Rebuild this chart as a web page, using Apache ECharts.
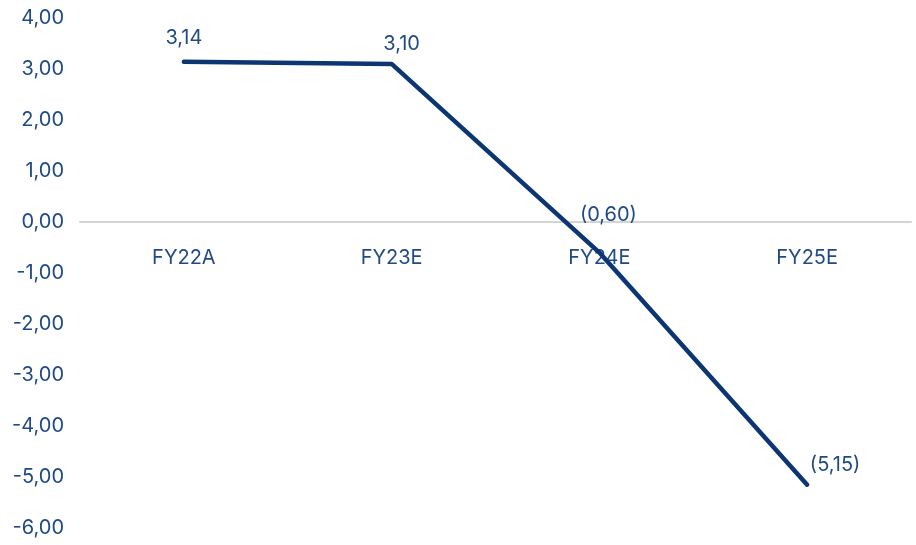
<!DOCTYPE html>
<html><head><meta charset="utf-8">
<script src="https://cdn.jsdelivr.net/npm/echarts@6/dist/echarts.min.js"></script>
<style>html,body{margin:0;padding:0;background:#fff}#c{width:916px;height:545px}</style>
</head><body><div id="c"></div>
<script>
const categories = ['FY22A','FY23E','FY24E','FY25E'];
const values = [3.14, 3.10, -0.60, -5.15];
const yTicks = {min:-6, max:4, interval:1};

function fmt(v){
  const s = Math.abs(v).toFixed(2).replace('.', ',');
  return v < 0 ? '(' + s + ')' : s;
}
const labelOffsets = [[0,-2],[10,2],[9,-16],[28,2]];
const gridTop = 18, gridBottom = 17, H = 545;
const plotH = H - gridTop - gridBottom;
const zeroOffset = -plotH * (0 - yTicks.min) / (yTicks.max - yTicks.min);
const chart = echarts.init(document.getElementById('c'));
chart.setOption({
  animation:false,
  grid:{left:80,right:5,top:gridTop,bottom:gridBottom,outerBoundsMode:'none',containLabel:false},
  textStyle:{fontFamily:'Inter'},
  xAxis:{type:'category',data:categories,position:'bottom',offset:zeroOffset,
    axisLine:{onZero:false,lineStyle:{color:'#d4d4d4',width:2}},
    axisTick:{show:false},
    axisLabel:{color:'#1f4a85',fontSize:20,margin:26,fontFamily:'Inter'}},
  yAxis:{type:'value',min:yTicks.min,max:yTicks.max,interval:yTicks.interval,
    splitLine:{show:false},axisLine:{show:false},axisTick:{show:false},
    axisLabel:{color:'#1f4a85',fontSize:20,margin:16,fontFamily:'Inter',
      formatter:v=>v.toFixed(2).replace('.',',')}},
  series:[{type:'line',data:values.map((v,i)=>({value:v,label:{offset:labelOffsets[i]}})),
    symbol:'circle',symbolSize:0.1,showSymbol:true,itemStyle:{color:'#0c3672'},
    lineStyle:{color:'#0c3672',width:4.5,cap:'round'},
    label:{show:true,position:'top',distance:12,color:'#1f4a85',fontSize:20,fontFamily:'Inter',
      formatter:p=>fmt(p.value)}}]
});
</script></body></html>
